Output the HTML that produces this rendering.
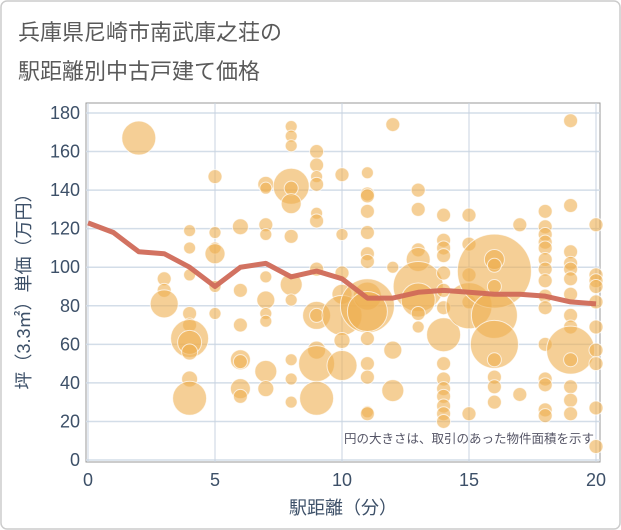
<!DOCTYPE html>
<html><head><meta charset="utf-8">
<style>
body{margin:0;background:#fff;}
svg{display:block;font-family:"Liberation Sans","Noto Sans CJK JP",sans-serif;}
</style></head>
<body>
<svg id="chart" width="621" height="530" viewBox="0 0 621 530" xmlns="http://www.w3.org/2000/svg">
<rect x="1" y="1" width="619" height="528" rx="6" fill="#fff" stroke="#ccc" stroke-width="1.5"/>
<text x="18" y="40" font-size="22" fill="#5a5a5a">兵庫県尼崎市南武庫之荘の</text>
<text x="18" y="79" font-size="22" fill="#5a5a5a">駅距離別中古戸建て価格</text>
<rect x="86" y="103" width="514" height="359" fill="#fff" stroke="#999" stroke-width="1"/>
<g id="grid"></g>
<g id="bubbles"></g>
<g id="line"></g>
<g id="ticks"></g>
<text x="594" y="443" font-size="12.5" fill="#556" text-anchor="end">円の大きさは、取引のあった物件面積を示す</text>
<text x="343" y="514" font-size="18" fill="#3d5068" text-anchor="middle">駅距離（分）</text>
<text transform="translate(30,287) rotate(-90)" font-size="18" fill="#3d5068" text-anchor="middle">坪（3.3㎡）単価（万円）</text>
</svg>
<script>
const xTicks=[0,5,10,15,20];
const yTicks=[0,20,40,60,80,100,120,140,160,180];
const lineX=[0,1,2,3,4,5,6,7,8,9,10,11,12,13,14,15,16,17,18,19,20];
const lineY=[123,118,108,107,100,90,100,102,95,98,94,84,84,87,88,87,86,86,85,82,81];
const bx=[2,3,3,3,4,4,4,4,4,4,4,4,4,4,5,5,5,5,5,5,6,6,6,6,6,6,6,7,7,7,7,7,7,7,7,7,7,8,8,8,8,8,8,8,8,8,8,8,8,9,9,9,9,9,9,9,9,9,9,9,9,10,10,10,10,10,10,10,11,11,11,11,11,11,11,11,11,11,11,11,11,11,11,12,12,12,12,13,13,13,13,13,13,13,13,14,14,14,14,14,14,14,14,14,14,14,14,14,14,14,15,15,15,15,15,15,16,16,16,16,16,16,16,16,16,16,17,17,18,18,18,18,18,18,18,18,18,18,18,18,18,18,18,19,19,19,19,19,19,19,19,19,19,19,19,19,19,20,20,20,20,20,20,20,20,20,20];
const by=[167,94,88,81,119,110,96,76,70,63,61,56,42,32,147,118,110,107,90,76,121,88,70,52,51,37,33,143,141,122,117,95,83,76,72,46,37,173,168,163,142,141,133,116,91,83,52,42,30,160,153,147,143,128,124,99,75,75,57,50,32,148,117,97,86,75,62,49,149,138,137,129,118,107,103,85,80,77,63,50,43,25,24,174,57,36,100,140,130,109,104,90,83,76,69,127,114,110,106,97,88,79,65,50,42,37,33,28,24,20,127,112,96,82,80,24,98,104,101,75,60,52,43,38,30,90,122,34,129,121,117,113,110,104,99,93,85,79,60,42,39,26,23,176,132,108,102,99,94,86,75,69,57,52,38,31,24,122,96,93,90,82,69,57,50,27,7];
const bs=[17,7,7,14,6,6,6,7,7,19,12,8,8,17,7,6,6,10,6,6,8,7,7,10,7,10,7,8,6,7,6,6,9,6,6,11,8,6,6,6,18,7,10,7,11,6,6,6,6,7,7,6,7,6,7,7,14,7,9,18,17,7,6,7,10,20,8,15,6,7,7,7,7,7,7,14,27,20,7,7,7,6,7,7,9,11,6,7,7,7,12,25,17,7,6,7,7,7,7,7,7,7,17,7,7,7,7,7,7,7,7,7,7,7,23,7,37,10,7,23,24,7,7,7,7,7,7,7,7,7,7,7,7,7,7,7,7,7,7,7,7,7,7,7,7,7,7,7,7,7,7,7,24,7,7,7,7,7,7,7,7,7,7,7,7,7,7];
const NS="http://www.w3.org/2000/svg";
const X=v=>88+v*(596-88)/20;
const Y=v=>460-v*(460-113)/180;
function mk(t,a){const e=document.createElementNS(NS,t);for(const k in a)e.setAttribute(k,a[k]);return e;}
const grid=document.getElementById('grid'),ticks=document.getElementById('ticks');
yTicks.forEach(t=>{
 const l=mk('line',{x1:86,x2:600,y1:Y(t),y2:Y(t),stroke:'#d3dde8','stroke-width':1.5});
 
 
 grid.appendChild(l);
 const tx=mk('text',{x:80,y:Y(t)+6,'font-size':18,fill:'#3d5068','text-anchor':'end'});
 tx.textContent=t;
 
 
 ticks.appendChild(tx);
});
xTicks.forEach(t=>{
 const l=mk('line',{x1:X(t),x2:X(t),y1:103,y2:462,stroke:'#c8d3e0','stroke-width':1});
 
 
 grid.appendChild(l);
 const tx=mk('text',{x:X(t),y:486,'font-size':18,fill:'#3d5068','text-anchor':'middle'});
 tx.textContent=t;
 
 
 ticks.appendChild(tx);
});
const bg=document.getElementById('bubbles');
bx.forEach((v,i)=>{
 const c=mk('circle',{cx:X(v),cy:Y(by[i]),r:bs[i],fill:'rgba(238,175,80,0.6)',stroke:'rgba(255,255,255,0.7)','stroke-width':1});
 
 
 bg.appendChild(c);
});
const p=mk('polyline',{points:lineX.map((v,i)=>X(v)+','+Y(lineY[i])).join(' '),fill:'none',stroke:'#d06a58','stroke-width':5,'stroke-linejoin':'round','stroke-opacity':0.95});


document.getElementById('line').appendChild(p);
</script>
</body></html>
